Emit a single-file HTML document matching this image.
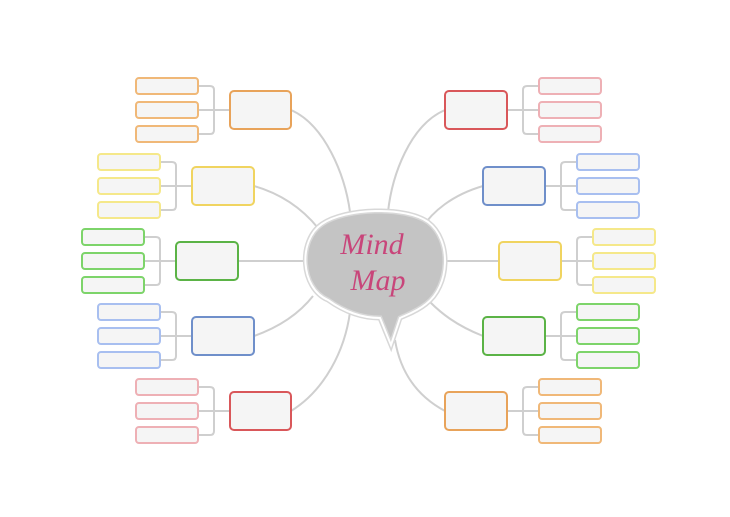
<!DOCTYPE html>
<html><head><meta charset="utf-8"><style>
html,body{margin:0;padding:0;background:#fff;}
svg{display:block;}
</style></head><body>
<svg width="730" height="517" viewBox="0 0 730 517" xmlns="http://www.w3.org/2000/svg">
<g fill="none" stroke="#cfcfcf" stroke-width="2">
<!-- curves -->
<path d="M291,110 C325,125 345,175 350,212"/>
<path d="M254,186 C285,195 305,212 318,228"/>
<path d="M238,261 H304"/>
<path d="M254,336 C285,325 302,310 313,296"/>
<path d="M291,411 C325,390 345,350 350,312"/>
<path d="M445,110 C410,125 392,175 388,212"/>
<path d="M483,186 C452,195 432,212 422,228"/>
<path d="M499,261 H442"/>
<path d="M483,336 C455,325 440,312 430,302"/>
<path d="M445,411 C415,395 400,370 395,340"/>
<!-- brackets left -->
<path d="M230,110 H214 M198,86 H210 Q214,86 214,90 V130 Q214,134 210,134 H198 M198,110 H214"/>
<path d="M192,186 H176 M160,162 H172 Q176,162 176,166 V206 Q176,210 172,210 H160 M160,186 H176"/>
<path d="M176,261 H160 M144,237 H156 Q160,237 160,241 V281 Q160,285 156,285 H144 M144,261 H160"/>
<path d="M192,336 H176 M160,312 H172 Q176,312 176,316 V356 Q176,360 172,360 H160 M160,336 H176"/>
<path d="M230,411 H214 M198,387 H210 Q214,387 214,391 V431 Q214,435 210,435 H198 M198,411 H214"/>
<!-- brackets right -->
<path d="M507,110 H523 M539,86 H527 Q523,86 523,90 V130 Q523,134 527,134 H539 M539,110 H523"/>
<path d="M545,186 H561 M577,162 H565 Q561,162 561,166 V206 Q561,210 565,210 H577 M577,186 H561"/>
<path d="M561,261 H577 M593,237 H581 Q577,237 577,241 V281 Q577,285 581,285 H593 M593,261 H577"/>
<path d="M545,336 H561 M577,312 H565 Q561,312 561,316 V356 Q561,360 565,360 H577 M577,336 H561"/>
<path d="M507,411 H523 M539,387 H527 Q523,387 523,391 V431 Q523,435 527,435 H539 M539,411 H523"/>
</g>
<g fill="#f5f5f5" stroke-width="2">
<!-- main boxes -->
<rect x="230" y="91" width="61" height="38" rx="4" stroke="#e8a35a"/>
<rect x="192" y="167" width="62" height="38" rx="4" stroke="#f0d460"/>
<rect x="176" y="242" width="62" height="38" rx="4" stroke="#5bb346"/>
<rect x="192" y="317" width="62" height="38" rx="4" stroke="#6f8fca"/>
<rect x="230" y="392" width="61" height="38" rx="4" stroke="#d9575a"/>
<rect x="445" y="91" width="62" height="38" rx="4" stroke="#d9575a"/>
<rect x="483" y="167" width="62" height="38" rx="4" stroke="#6f8fca"/>
<rect x="499" y="242" width="62" height="38" rx="4" stroke="#f0d460"/>
<rect x="483" y="317" width="62" height="38" rx="4" stroke="#5bb346"/>
<rect x="445" y="392" width="62" height="38" rx="4" stroke="#e8a35a"/>
<!-- small boxes -->
<g stroke="#f0b878"><rect x="136" y="78" width="62" height="16" rx="3"/><rect x="136" y="102" width="62" height="16" rx="3"/><rect x="136" y="126" width="62" height="16" rx="3"/>
<rect x="539" y="379" width="62" height="16" rx="3"/><rect x="539" y="403" width="62" height="16" rx="3"/><rect x="539" y="427" width="62" height="16" rx="3"/></g>
<g stroke="#f5e88a"><rect x="98" y="154" width="62" height="16" rx="3"/><rect x="98" y="178" width="62" height="16" rx="3"/><rect x="98" y="202" width="62" height="16" rx="3"/>
<rect x="593" y="229" width="62" height="16" rx="3"/><rect x="593" y="253" width="62" height="16" rx="3"/><rect x="593" y="277" width="62" height="16" rx="3"/></g>
<g stroke="#7dd46a"><rect x="82" y="229" width="62" height="16" rx="3"/><rect x="82" y="253" width="62" height="16" rx="3"/><rect x="82" y="277" width="62" height="16" rx="3"/>
<rect x="577" y="304" width="62" height="16" rx="3"/><rect x="577" y="328" width="62" height="16" rx="3"/><rect x="577" y="352" width="62" height="16" rx="3"/></g>
<g stroke="#a8bff0"><rect x="98" y="304" width="62" height="16" rx="3"/><rect x="98" y="328" width="62" height="16" rx="3"/><rect x="98" y="352" width="62" height="16" rx="3"/>
<rect x="577" y="154" width="62" height="16" rx="3"/><rect x="577" y="178" width="62" height="16" rx="3"/><rect x="577" y="202" width="62" height="16" rx="3"/></g>
<g stroke="#eeb0b5"><rect x="136" y="379" width="62" height="16" rx="3"/><rect x="136" y="403" width="62" height="16" rx="3"/><rect x="136" y="427" width="62" height="16" rx="3"/>
<rect x="539" y="78" width="62" height="16" rx="3"/><rect x="539" y="102" width="62" height="16" rx="3"/><rect x="539" y="126" width="62" height="16" rx="3"/></g>
</g>
<!-- brain -->
<path d="M328,300 C300,288 298,240 322,224 C345,208 405,206 428,222 C452,240 450,286 426,304 C416,312 406,315 400,318 L391,345 L380,318 C360,318 342,310 328,300 Z" fill="#c4c4c4" stroke="#d8d8d8" stroke-width="5"/>
<path d="M328,300 C300,288 298,240 322,224 C345,208 405,206 428,222 C452,240 450,286 426,304 C416,312 406,315 400,318 L391,345 L380,318 C360,318 342,310 328,300 Z" fill="none" stroke="#fff" stroke-width="2"/>
<text x="372" y="254" text-anchor="middle" font-family="Liberation Serif, serif" font-style="italic" font-size="30" fill="#c8457a">Mind</text>
<text x="378" y="290" text-anchor="middle" font-family="Liberation Serif, serif" font-style="italic" font-size="30" fill="#c8457a">Map</text>
</svg>
</body></html>
